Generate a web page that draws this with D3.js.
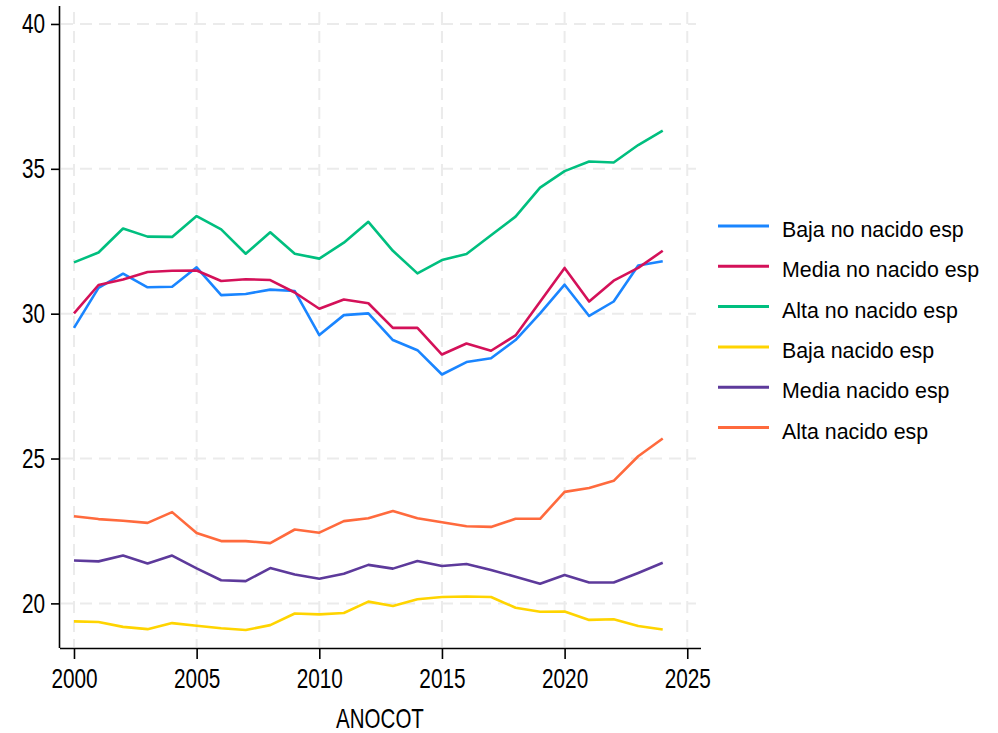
<!DOCTYPE html>
<html>
<head>
<meta charset="utf-8">
<script src="https://cdn.jsdelivr.net/npm/d3@7"></script>
<style>
  body { margin: 0; background: #fff; }
  svg text { font-family: "Liberation Sans", Arial, sans-serif; fill: #000; }
</style>
</head>
<body>
<svg width="998" height="733"></svg>
<script>
// data
var years = d3.range(2000, 2025);
var seriesNames = ['Baja no nacido esp', 'Media no nacido esp', 'Alta no nacido esp',
                   'Baja nacido esp', 'Media nacido esp', 'Alta nacido esp'];
var colors = ['#1a85ff', '#d41159', '#00bf7f', '#ffd400', '#5d3a9b', '#ff6a3d'];

var bajaNo  = [29.51, 30.89, 31.38, 30.91, 30.93, 31.60, 30.64, 30.68, 30.83, 30.78, 29.26, 29.95, 30.01,
               29.09, 28.74, 27.90, 28.33, 28.46, 29.09, 30.01, 31.00, 29.92, 30.42, 31.66, 31.81];
var mediaNo = [30.01, 30.99, 31.18, 31.44, 31.48, 31.49, 31.13, 31.19, 31.16, 30.73, 30.17, 30.49, 30.36,
               29.51, 29.51, 28.59, 28.97, 28.72, 29.25, 30.41, 31.58, 30.42, 31.14, 31.58, 32.17];
var altaNo  = [31.77, 32.11, 32.94, 32.66, 32.65, 33.37, 32.91, 32.07, 32.81, 32.07, 31.90, 32.45, 33.17,
               32.17, 31.39, 31.85, 32.06, 32.71, 33.35, 34.35, 34.92, 35.25, 35.22, 35.82, 36.32];
var bajaSi  = [19.38, 19.36, 19.19, 19.11, 19.32, 19.23, 19.14, 19.08, 19.25, 19.65, 19.62, 19.67, 20.06,
               19.91, 20.14, 20.22, 20.24, 20.22, 19.85, 19.71, 19.72, 19.43, 19.45, 19.22, 19.10];
var mediaSi = [21.48, 21.45, 21.65, 21.38, 21.65, 21.21, 20.80, 20.77, 21.22, 21.00, 20.85, 21.02, 21.33,
               21.20, 21.46, 21.29, 21.36, 21.15, 20.92, 20.68, 20.98, 20.72, 20.72, 21.05, 21.40];
var altaSi  = [23.01, 22.91, 22.85, 22.78, 23.15, 22.43, 22.15, 22.15, 22.08, 22.55, 22.44, 22.84, 22.94,
               23.19, 22.94, 22.80, 22.66, 22.64, 22.92, 22.92, 23.85, 23.98, 24.23, 25.08, 25.69];
var allSeries = [bajaNo, mediaNo, altaNo, bajaSi, mediaSi, altaSi];

var xTicks = [2000, 2005, 2010, 2015, 2020, 2025];
var yTicks = [20, 25, 30, 35, 40];

const svg = d3.select('svg');

var x = d3.scaleLinear().domain([1999.43, 2025.56]).range([60, 701]);
var y = d3.scaleLinear().domain([18.46, 40.62]).range([648, 6]);

// narrow font look: squeeze text horizontally
function squeeze(sel, k) {
  sel.each(function() {
    var t = d3.select(this);
    var xx = +t.attr('x') || 0;
    t.attr('x', xx / k).attr('transform', 'scale(' + k + ',1)');
  });
}

// grid
var grid = svg.append('g').attr('class', 'grid')
  .style('stroke', '#ebebeb').style('stroke-width', 2).style('stroke-dasharray', '12,7');
grid.selectAll('line.v').data(xTicks).enter().append('line')
  .attr('x1', d => x(d)).attr('x2', d => x(d))
  .attr('y1', 12).attr('y2', 647);
grid.selectAll('line.h').data(yTicks).enter().append('line')
  .attr('x1', 61).attr('x2', 696)
  .attr('y1', d => y(d)).attr('y2', d => y(d));

// lines
var line = d3.line()
  .x((d, i) => x(years[i]))
  .y(d => y(d));

svg.append('g').selectAll('path')
  .data(allSeries)
  .enter().append('path')
  .attr('d', line)
  .style('fill', 'none')
  .style('stroke', (d, i) => colors[i])
  .style('stroke-width', 2.6)
  .style('stroke-linejoin', 'round');

// axes
var xAxis = svg.append('g').attr('transform', 'translate(0,648)')
  .call(d3.axisBottom(x).tickValues(xTicks).tickFormat(d3.format('d')).tickSize(11).tickPadding(10));
var yAxis = svg.append('g').attr('transform', 'translate(60,0)')
  .call(d3.axisLeft(y).tickValues(yTicks).tickSize(9).tickPadding(6));

[xAxis, yAxis].forEach(function(a) {
  a.select('.domain').style('stroke', '#000').style('stroke-width', 1.6);
  a.selectAll('.tick line').style('stroke', '#000').style('stroke-width', 1.6);
  a.selectAll('.tick text').style('font-size', '27px').style('fill', '#000')
    .style('font-family', '"Liberation Sans", Arial, sans-serif');
  squeeze(a.selectAll('.tick text'), 0.77);
});
xAxis.select('.domain').attr('d', 'M60,0.5H701');
yAxis.select('.domain').attr('d', 'M-0.5,6V648');

var xTitle = svg.append('text')
  .attr('x', 380).attr('y', 728)
  .attr('text-anchor', 'middle')
  .style('font-size', '27px')
  .text('ANOCOT');
squeeze(xTitle, 0.76);

// legend
var legend = svg.append('g').attr('transform', 'translate(718,226)');
var items = legend.selectAll('g').data(seriesNames).enter().append('g')
  .attr('transform', (d, i) => 'translate(0,' + (i * 40.3) + ')');
items.append('line')
  .attr('x1', 0).attr('x2', 51).attr('y1', 0).attr('y2', 0)
  .style('stroke', (d, i) => colors[i]).style('stroke-width', 3);
var labels = items.append('text')
  .attr('x', 64).attr('y', 11)
  .style('font-size', '23px')
  .text(d => d);
squeeze(labels, 0.93);
</script>
</body>
</html>
